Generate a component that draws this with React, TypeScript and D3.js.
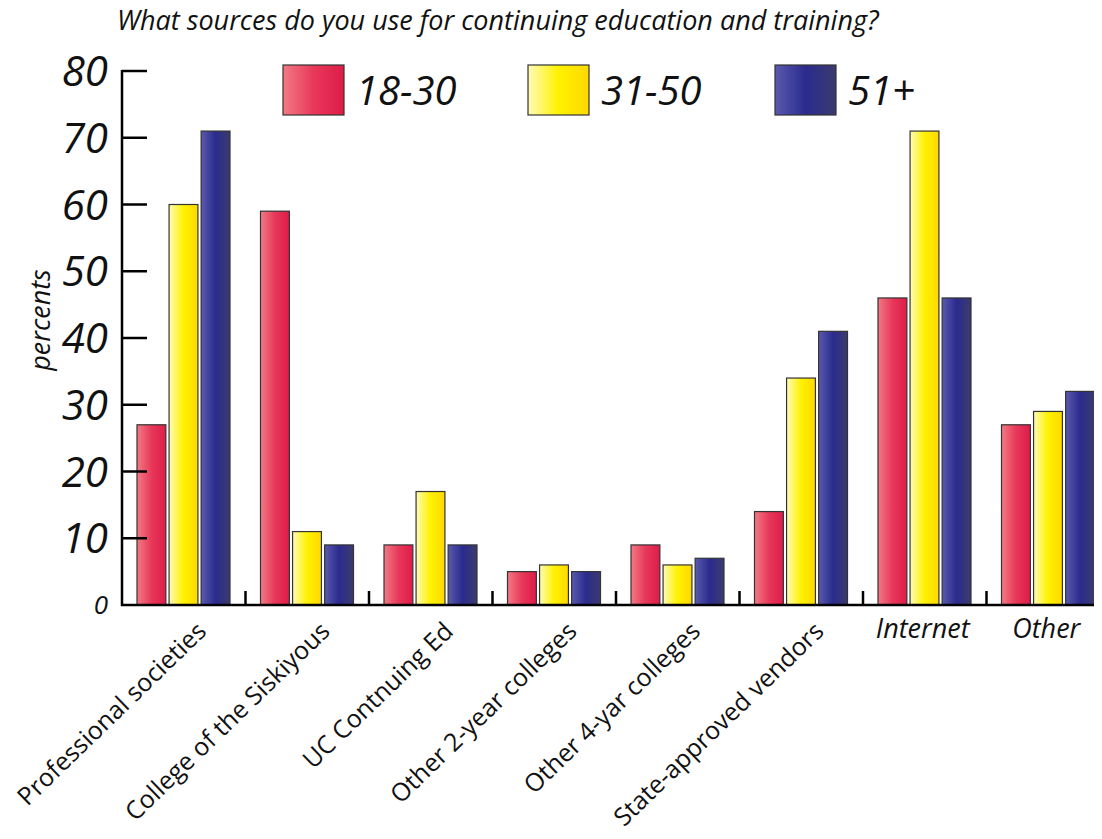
import React, { useEffect, useRef } from "react";
import * as d3 from "d3";

// categories along the x axis
const categories = [
  "Professional societies",
  "College of the Siskiyous",
  "UC Contnuing Ed",
  "Other 2-year colleges",
  "Other 4-yar colleges",
  "State-approved vendors",
  "Internet",
  "Other",
];
// age groups
const groups = ["18-30", "31-50", "51+"];
// percents per age group
const young = [27, 59, 9, 5, 9, 14, 46, 27];
const middle = [60, 11, 17, 6, 6, 34, 71, 29];
const older = [71, 9, 9, 5, 7, 41, 46, 32];
const yTicks = [0, 10, 20, 30, 40, 50, 60, 70, 80];
const horizontalLabels = ["Internet", "Other"];

const gradients = [
  { id: "g-red", stops: ["#f27a84", "#e8385a", "#de1c48"] },
  { id: "g-yellow", stops: ["#fffbb8", "#fff200", "#ffd800"] },
  { id: "g-blue", stops: ["#5a5aae", "#2b2b8e", "#3b3b6e"] },
];

const App = () => {
  const ref = useRef<SVGSVGElement>(null);

  useEffect(() => {
    const width = 1102;
    const height = 839;
    const left = 122;
    const top = 71;
    const bottom = 605;

    const svg = d3.select(ref.current);
    svg.selectAll("*").remove();
    svg.attr("width", width).attr("height", height);

    const font = "'Open Sans', 'Noto Sans', sans-serif";

    // gradients
    const defs = svg.append("defs");
    gradients.forEach((g) => {
      const lg = defs
        .append("linearGradient")
        .attr("id", g.id)
        .attr("x1", "0%")
        .attr("x2", "100%")
        .attr("y1", "0%")
        .attr("y2", "0%");
      g.stops.forEach((c, i) => {
        lg.append("stop")
          .attr("offset", `${(i / (g.stops.length - 1)) * 100}%`)
          .attr("stop-color", c);
      });
    });

    const x = d3
      .scaleBand()
      .domain(categories)
      .range([left, left + 123.5 * categories.length])
      .paddingInner(0)
      .paddingOuter(0);

    const xInner = d3
      .scaleBand()
      .domain(groups)
      .range([15, 108])
      .paddingInner(0.1);

    const y = d3.scaleLinear().domain([0, 80]).range([bottom, top]);

    const rows = categories.map((c, i) => ({
      category: c,
      values: [young[i], middle[i], older[i]],
    }));

    // title
    svg
      .append("text")
      .attr("x", 117)
      .attr("y", 30)
      .attr("font-family", font)
      .attr("font-style", "italic")
      .attr("font-size", 27)
      .attr("fill", "#111")
      .text("What sources do you use for continuing education and training?");

    // bars
    const g = svg
      .selectAll("g.cat")
      .data(rows)
      .enter()
      .append("g")
      .attr("class", "cat")
      .attr("transform", (d) => `translate(${x(d.category)},0)`);

    g.selectAll("rect")
      .data((d) => d.values.map((v, i) => ({ v, i })))
      .enter()
      .append("rect")
      .attr("x", (d) => xInner(groups[d.i])!)
      .attr("width", xInner.bandwidth())
      .attr("y", (d) => y(d.v))
      .attr("height", (d) => y(0) - y(d.v))
      .attr("fill", (d) => `url(#${gradients[d.i].id})`)
      .attr("stroke", "#333")
      .attr("stroke-width", 1.2);

    // category ticks
    categories.slice(1).forEach((c) => {
      svg
        .append("line")
        .attr("x1", x(c)!)
        .attr("x2", x(c)!)
        .attr("y1", bottom)
        .attr("y2", bottom - 14)
        .attr("stroke", "#000")
        .attr("stroke-width", 2.5);
    });

    // axes
    svg
      .append("line")
      .attr("x1", left)
      .attr("x2", left)
      .attr("y1", top - 1)
      .attr("y2", bottom + 1)
      .attr("stroke", "#000")
      .attr("stroke-width", 2.5);
    svg
      .append("line")
      .attr("x1", left - 1)
      .attr("x2", width)
      .attr("y1", bottom)
      .attr("y2", bottom)
      .attr("stroke", "#000")
      .attr("stroke-width", 2.5);

    yTicks.slice(1).forEach((t) => {
      svg
        .append("line")
        .attr("x1", left)
        .attr("x2", left + 25)
        .attr("y1", y(t))
        .attr("y2", y(t))
        .attr("stroke", "#000")
        .attr("stroke-width", 2.5);
    });

    yTicks.forEach((t) => {
      svg
        .append("text")
        .attr("x", 108)
        .attr("y", y(t))
        .attr("dy", "0.36em")
        .attr("text-anchor", "end")
        .attr("font-family", font)
        .attr("font-style", "italic")
        .attr("font-size", t === 0 ? 26 : 42)
        .attr("fill", "#111")
        .text(t);
    });

    // y label
    svg
      .append("text")
      .attr("transform", "translate(50,320) rotate(-90)")
      .attr("text-anchor", "middle")
      .attr("font-family", font)
      .attr("font-style", "italic")
      .attr("font-size", 27)
      .attr("fill", "#111")
      .text("percents");

    // category labels
    categories.forEach((c) => {
      const cx = x(c)! + x.bandwidth() / 2;
      if (horizontalLabels.includes(c)) {
        svg
          .append("text")
          .attr("x", cx - 2)
          .attr("y", 638)
          .attr("text-anchor", "middle")
          .attr("font-family", font)
          .attr("font-style", "italic")
          .attr("font-size", 27)
          .attr("fill", "#111")
          .text(c);
      } else {
        svg
          .append("text")
          .attr("transform", `translate(${cx + 24},633) rotate(-44)`)
          .attr("text-anchor", "end")
          .attr("font-family", font)
          .attr("font-size", 25)
          .attr("fill", "#111")
          .text(c);
      }
    });

    // legend
    const legendX = [283, 528, 775];
    groups.forEach((name, i) => {
      svg
        .append("rect")
        .attr("x", legendX[i])
        .attr("y", 65)
        .attr("width", 61)
        .attr("height", 50)
        .attr("fill", `url(#${gradients[i].id})`)
        .attr("stroke", "#333")
        .attr("stroke-width", 1.2);
      svg
        .append("text")
        .attr("x", legendX[i] + 73)
        .attr("y", 105)
        .attr("font-family", font)
        .attr("font-style", "italic")
        .attr("font-size", 40)
        .attr("fill", "#111")
        .text(name);
    });
  }, []);

  return (
    <div style={{ margin: -8 }}>
      <svg ref={ref} style={{ display: "block", background: "#fff" }} />
    </div>
  );
};

export default App;
